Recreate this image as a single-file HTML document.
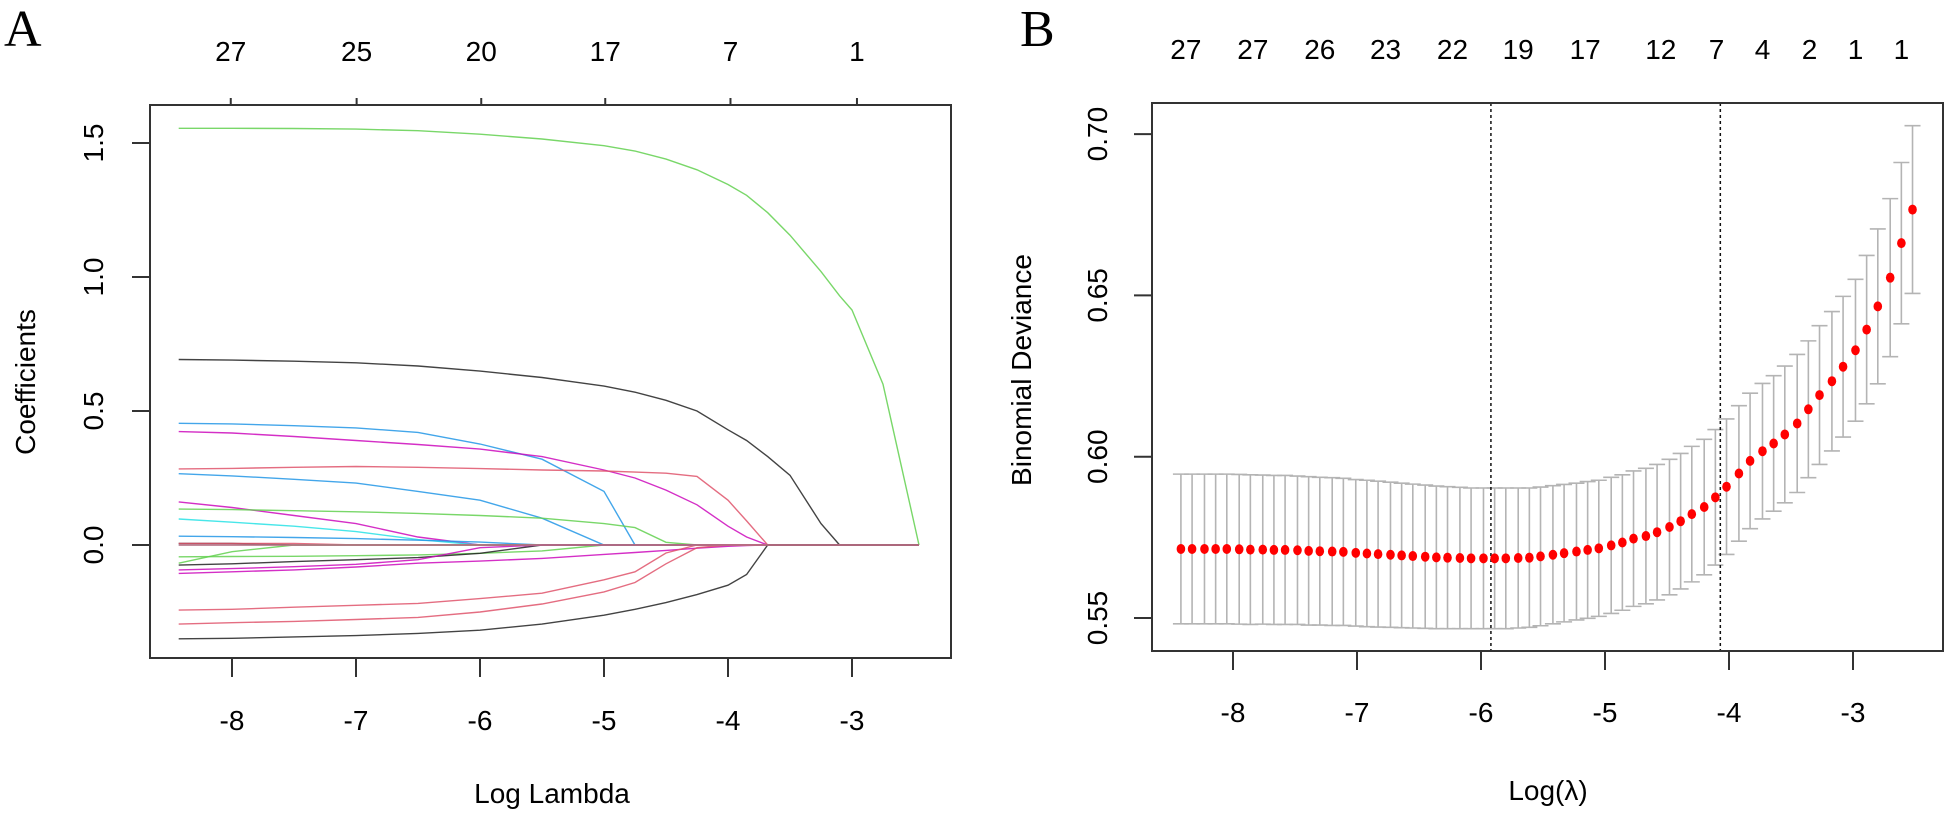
<!DOCTYPE html>
<html><head><meta charset="utf-8"><style>
html,body{margin:0;padding:0;background:#fff;}
svg{display:block;font-family:"Liberation Sans",Arial,sans-serif;}
</style></head><body>
<svg id="fig" width="1948" height="815" viewBox="0 0 1948 815" xmlns="http://www.w3.org/2000/svg">
<text x="4" y="46" font-family="Liberation Serif,serif" font-size="52">A</text>
<text x="1020" y="46" font-family="Liberation Serif,serif" font-size="52">B</text>
<g id="pa"></g>
<g id="pb"></g>
</svg>
<script>
// ---------- Panel A data ----------
const lambdaA = [-8.43,-8,-7.5,-7,-6.5,-6,-5.5,-5,-4.75,-4.5,-4.25,-4,-3.85,-3.68,-3.5,-3.25,-3.1,-3,-2.75,-2.46];
const pathColors = ["#61D04F","#222222","#2297E6","#CD0BBC","#DF536B","#2297E6","#CD0BBC","#61D04F","#28E2E5","#2297E6","#222222","#DF536B","#61D04F","#61D04F","#222222","#CD0BBC","#CD0BBC","#DF536B","#DF536B","#222222","#28E2E5","#DF536B"];
const pathGreenTop = [1.555,1.555,1.554,1.552,1.546,1.533,1.515,1.49,1.47,1.44,1.40,1.345,1.305,1.24,1.156,1.02,0.93,0.877,0.60,0];
const pathBlackTop = [0.692,0.690,0.686,0.68,0.668,0.649,0.625,0.593,0.57,0.54,0.5,0.43,0.39,0.33,0.26,0.08,0,0,0,0];
const pathBlue1 = [0.454,0.452,0.445,0.437,0.42,0.377,0.32,0.2,0,0,0,0,0,0,0,0,0,0,0,0];
const pathMagenta1 = [0.423,0.418,0.405,0.39,0.375,0.358,0.33,0.28,0.25,0.205,0.15,0.07,0.03,0,0,0,0,0,0,0];
const pathRed1 = [0.284,0.286,0.29,0.293,0.29,0.285,0.28,0.276,0.272,0.268,0.256,0.167,0.09,0,0,0,0,0,0,0];
const pathBlue2 = [0.266,0.258,0.245,0.231,0.2,0.167,0.1,0,0,0,0,0,0,0,0,0,0,0,0,0];
const pathMagenta2 = [0.161,0.14,0.11,0.08,0.03,0,0,0,0,0,0,0,0,0,0,0,0,0,0,0];
const pathGreen2 = [0.134,0.132,0.128,0.124,0.118,0.11,0.1,0.08,0.065,0.01,0,0,0,0,0,0,0,0,0,0];
const pathCyan = [0.097,0.085,0.07,0.05,0.02,0,0,0,0,0,0,0,0,0,0,0,0,0,0,0];
const pathBlue3 = [0.033,0.031,0.028,0.024,0.018,0.011,0,0,0,0,0,0,0,0,0,0,0,0,0,0];
const pathBlackFlat = [0.006,0.006,0,0,0,0,0,0,0,0,0,0,0,0,0,0,0,0,0,0];
const pathRedFlat = [0.006,0.006,0.006,0,0,0,0,0,0,0,0,0,0,0,0,0,0,0,0,0];
const pathGreenCross = [-0.068,-0.025,0,0,0,0,0,0,0,0,0,0,0,0,0,0,0,0,0,0];
const pathGreenLong = [-0.044,-0.043,-0.042,-0.04,-0.037,-0.031,-0.022,0,0,0,0,0,0,0,0,0,0,0,0,0];
const pathBlack2 = [-0.075,-0.07,-0.062,-0.055,-0.047,-0.031,0,0,0,0,0,0,0,0,0,0,0,0,0,0];
const pathMagenta2b = [-0.093,-0.088,-0.081,-0.072,-0.055,-0.01,0,0,0,0,0,0,0,0,0,0,0,0,0,0];
const pathMagentaLong = [-0.106,-0.1,-0.093,-0.082,-0.068,-0.06,-0.05,-0.035,-0.028,-0.02,-0.012,-0.005,-0.002,0,0,0,0,0,0,0];
const pathRedUpper = [-0.243,-0.24,-0.232,-0.225,-0.218,-0.2,-0.18,-0.13,-0.1,-0.03,0,0,0,0,0,0,0,0,0,0];
const pathRedLower = [-0.295,-0.29,-0.285,-0.278,-0.27,-0.25,-0.22,-0.175,-0.14,-0.07,-0.01,0,0,0,0,0,0,0,0,0];
const pathBlackBottom = [-0.35,-0.348,-0.343,-0.338,-0.33,-0.318,-0.295,-0.262,-0.24,-0.215,-0.185,-0.15,-0.11,0,0,0,0,0,0,0];
const pathCyanZero = [0,0,0,0,0,0,0,0,0,0,0,0,0,0,0,0,0,0,0,0];
const pathRedZero = [0,0,0,0,0,0,0,0,0,0,0,0,0,0,0,0,0,0,0,0];
const pathsA = [pathGreenTop,pathBlackTop,pathBlue1,pathMagenta1,pathRed1,pathBlue2,pathMagenta2,pathGreen2,pathCyan,pathBlue3,pathBlackFlat,pathRedFlat,pathGreenCross,pathGreenLong,pathBlack2,pathMagenta2b,pathMagentaLong,pathRedUpper,pathRedLower,pathBlackBottom,pathCyanZero,pathRedZero];
const xTicksA = [-8,-7,-6,-5,-4,-3];
const yTicksA = [0,0.5,1.0,1.5];
const yTickLabelsA = ["0.0","0.5","1.0","1.5"];
const topLabelsA = ["27","25","20","17","7","1"];
const topLambdaA = [-8.01,-6.995,-5.99,-4.99,-3.98,-2.96];

// ---------- Panel B data ----------
const lambdaB = [-8.42,-8.33,-8.23,-8.14,-8.05,-7.95,-7.86,-7.76,-7.67,-7.58,-7.48,-7.39,-7.30,-7.20,-7.11,-7.01,-6.92,-6.83,-6.73,-6.64,-6.55,-6.45,-6.36,-6.27,-6.17,-6.08,-5.98,-5.89,-5.80,-5.70,-5.61,-5.52,-5.42,-5.33,-5.23,-5.14,-5.05,-4.95,-4.86,-4.77,-4.67,-4.58,-4.48,-4.39,-4.30,-4.20,-4.11,-4.02,-3.92,-3.83,-3.73,-3.64,-3.55,-3.45,-3.36,-3.27,-3.17,-3.08,-2.98,-2.89,-2.80,-2.70,-2.61,-2.52];
const devianceB = [0.5714,0.5714,0.5714,0.5714,0.5714,0.5713,0.5712,0.5712,0.5711,0.5711,0.571,0.5708,0.5707,0.5706,0.5705,0.5702,0.57,0.5698,0.5696,0.5694,0.5692,0.569,0.5688,0.5687,0.5686,0.5685,0.5685,0.5685,0.5685,0.5686,0.5687,0.5691,0.5696,0.5701,0.5706,0.5711,0.5716,0.5725,0.5734,0.5746,0.5754,0.5766,0.5782,0.58,0.5822,0.5844,0.5874,0.5907,0.5948,0.5987,0.6017,0.6041,0.6069,0.6103,0.6147,0.6191,0.6234,0.6279,0.633,0.6394,0.6466,0.6555,0.6662,0.6766];
const seB = [0.0232,0.0232,0.0232,0.0232,0.0232,0.0232,0.0232,0.0231,0.0231,0.0231,0.0230,0.0230,0.0229,0.0229,0.0228,0.0227,0.0227,0.0226,0.0225,0.0224,0.0223,0.0222,0.0221,0.0220,0.0219,0.0218,0.0218,0.0218,0.0218,0.0217,0.0216,0.0215,0.0214,0.0213,0.0212,0.0212,0.0211,0.0211,0.0210,0.0210,0.0210,0.0210,0.0210,0.0210,0.0210,0.0210,0.0210,0.0210,0.0210,0.0210,0.0210,0.0210,0.0212,0.0214,0.0212,0.0215,0.0216,0.0218,0.0220,0.0230,0.0240,0.0245,0.0250,0.0260];
const vlinesB = [-5.92,-4.07];
const xTicksB = [-8,-7,-6,-5,-4,-3];
const yTicksB = [0.55,0.60,0.65,0.70];
const yTickLabelsB = ["0.55","0.60","0.65","0.70"];
const topLabelsB = ["27","27","26","23","22","19","17","12","7","4","2","1","1"];
const topLambdaB = [-8.38,-7.84,-7.30,-6.77,-6.23,-5.70,-5.16,-4.55,-4.10,-3.73,-3.35,-2.98,-2.61];

const NS="http://www.w3.org/2000/svg";
function mk(parent,tag,attrs){const e=document.createElementNS(NS,tag);for(const k in attrs)e.setAttribute(k,attrs[k]);parent.appendChild(e);return e;}

// ---------- Panel A ----------
(function(){
const g=document.getElementById('pa');
const L=150,R=951,T=105,B=658;
const xA=v=>232+(v+8)*124;
const yA=v=>545-v*268;
// paths
pathsA.forEach((p,i)=>{
  let d='';p.forEach((v,j)=>{d+=(j?'L':'M')+xA(lambdaA[j]).toFixed(1)+','+yA(v).toFixed(1);});
  const e=mk(g,'path',{d:d,fill:'none',stroke:pathColors[i],'stroke-width':1.4,'stroke-opacity':0.85});
  
  
});
const box=mk(g,'rect',{x:L,y:T,width:R-L,height:B-T,fill:'none',stroke:'#333','stroke-width':2});


xTicksA.forEach(v=>{
  const t=mk(g,'line',{x1:xA(v),x2:xA(v),y1:B,y2:B+19,stroke:'#333','stroke-width':2});
  
  
  const l=mk(g,'text',{x:xA(v),y:730,'font-size':28,'text-anchor':'middle'});l.textContent=String(v);
  
  
});
yTicksA.forEach((v,i)=>{
  const t=mk(g,'line',{x1:L-18,x2:L,y1:yA(v),y2:yA(v),stroke:'#333','stroke-width':2});
  
  
  const l=mk(g,'text',{x:0,y:0,'font-size':28,'text-anchor':'middle',transform:'translate(103,'+yA(v)+') rotate(-90)'});l.textContent=yTickLabelsA[i];
  
  
});
topLabelsA.forEach((s,i)=>{
  const x=xA(topLambdaA[i]);
  const t=mk(g,'line',{x1:x,x2:x,y1:T-7,y2:T,stroke:'#333','stroke-width':2});
  
  
  const l=mk(g,'text',{x:x,y:61,'font-size':28,'text-anchor':'middle'});l.textContent=s;
  
  
});
const xt=mk(g,'text',{x:552,y:803,'font-size':28,'text-anchor':'middle'});xt.textContent='Log Lambda';


const yt=mk(g,'text',{x:0,y:0,'font-size':28,'text-anchor':'middle',transform:'translate(35,382) rotate(-90)'});yt.textContent='Coefficients';


})();

// ---------- Panel B ----------
(function(){
const g=document.getElementById('pb');
const L=1152,R=1943,T=103,B=651;
const xB=v=>1233+(v+8)*124;
const yB=v=>618-(v-0.55)*3226;
lambdaB.forEach((lam,i)=>{
  const x=xB(lam),yu=yB(devianceB[i]+seB[i]),yl=yB(devianceB[i]-seB[i]);
  const e=mk(g,'path',{d:`M${x},${yu}L${x},${yl}M${x-8},${yu}L${x+8},${yu}M${x-8},${yl}L${x+8},${yl}`,stroke:'#b4b4b4','stroke-width':1.6,fill:'none'});
  
  
});
vlinesB.forEach((v,i)=>{
  const e=mk(g,'line',{x1:xB(v),x2:xB(v),y1:T,y2:B,stroke:'#111','stroke-width':1.5,'stroke-dasharray':'3,3'});
  
  
});
lambdaB.forEach((lam,i)=>{
  const e=mk(g,'ellipse',{cx:xB(lam),cy:yB(devianceB[i]),rx:4.3,ry:5,fill:'#ff0000'});
  
  
});
const box=mk(g,'rect',{x:L,y:T,width:R-L,height:B-T,fill:'none',stroke:'#333','stroke-width':2});


xTicksB.forEach(v=>{
  const t=mk(g,'line',{x1:xB(v),x2:xB(v),y1:B,y2:B+19,stroke:'#333','stroke-width':2});
  
  
  const l=mk(g,'text',{x:xB(v),y:722,'font-size':28,'text-anchor':'middle'});l.textContent=String(v);
  
  
});
yTicksB.forEach((v,i)=>{
  const t=mk(g,'line',{x1:L-18,x2:L,y1:yB(v),y2:yB(v),stroke:'#333','stroke-width':2});
  
  
  const l=mk(g,'text',{x:0,y:0,'font-size':28,'text-anchor':'middle',transform:'translate(1107,'+yB(v)+') rotate(-90)'});l.textContent=yTickLabelsB[i];
  
  
});
topLabelsB.forEach((s,i)=>{
  const l=mk(g,'text',{x:xB(topLambdaB[i]),y:59,'font-size':28,'text-anchor':'middle'});l.textContent=s;
  
  
});
const xt=mk(g,'text',{x:1548,y:800,'font-size':28,'text-anchor':'middle'});xt.textContent='Log(λ)';


const yt=mk(g,'text',{x:0,y:0,'font-size':28,'text-anchor':'middle',transform:'translate(1031,370) rotate(-90)'});yt.textContent='Binomial Deviance';


})();
</script>
</body></html>
